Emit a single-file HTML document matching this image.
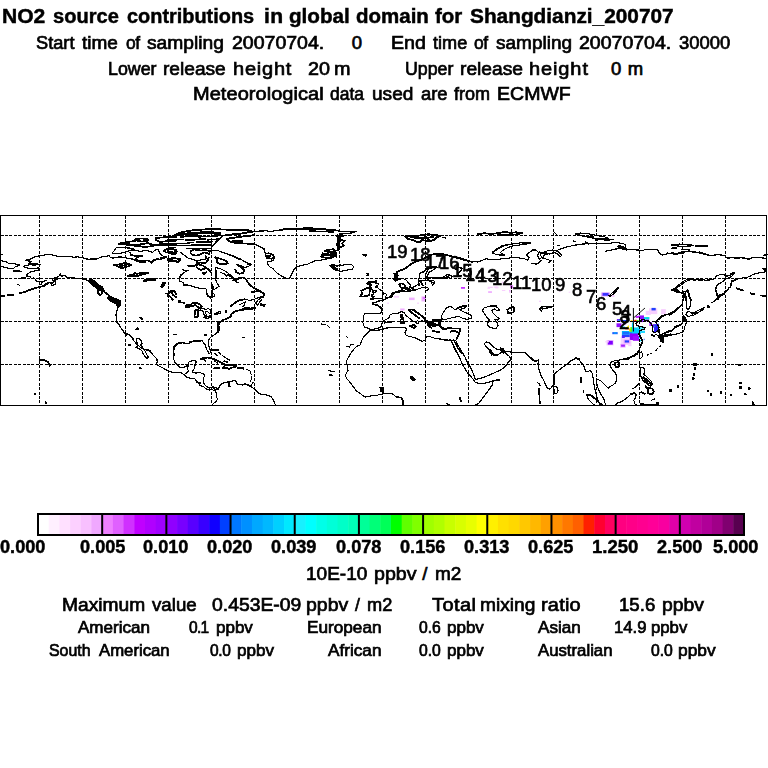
<!DOCTYPE html>
<html><head><meta charset="utf-8"><title>NO2 source contributions</title>
<style>
html,body{margin:0;padding:0;background:#fff;}
body{width:768px;height:768px;position:relative;overflow:hidden;font-family:"Liberation Sans",sans-serif;color:#000;}
.t{position:absolute;white-space:pre;line-height:1;transform-origin:0 0;-webkit-text-stroke:0.7px #000;}
.t.b{-webkit-text-stroke:0.45px #000;}
.t.d{-webkit-text-stroke:0.6px #000;}
svg{position:absolute;left:0;top:0;}
</style></head><body>
<svg width="768" height="768" viewBox="0 0 768 768">
<defs><filter id="bl" x="-5%" y="-5%" width="110%" height="110%"><feGaussianBlur stdDeviation="0.4"/></filter></defs>
<g id="extra" filter="url(#bl)"><rect x="649.0" y="308.3" width="8.3" height="5.8" fill="#f8d0ff"/>
<rect x="645.7" y="310.8" width="5.0" height="4.2" fill="#f8d0ff"/>
<rect x="651.5" y="307.9" width="4.2" height="2.5" fill="#2040ff"/>
<rect x="661.5" y="309.2" width="4.2" height="4.6" fill="#f8d0ff"/>
<rect x="635.7" y="315.8" width="3.3" height="2.1" fill="#c020ff"/>
<rect x="639.0" y="315.4" width="5.0" height="3.8" fill="#9010ff"/>
<rect x="644.0" y="317.1" width="5.4" height="2.5" fill="#00c8ff"/>
<rect x="646.5" y="317.5" width="1.7" height="1.2" fill="#00ff90"/>
<rect x="616.9" y="319.0" width="3.8" height="2.8" fill="#9010ff"/>
<rect x="617.8" y="319.6" width="2.5" height="1.2" fill="#00b0ff"/>
<rect x="621.9" y="320.0" width="6.2" height="1.3" fill="#2040ff"/>
<rect x="630.8" y="320.0" width="1.5" height="1.0" fill="#ffe000"/>
<rect x="634.2" y="319.8" width="2.5" height="1.5" fill="#ff2000"/>
<rect x="636.8" y="320.0" width="1.8" height="1.3" fill="#40ff00"/>
<rect x="639.8" y="319.8" width="3.3" height="2.3" fill="#9010ff"/>
<rect x="643.2" y="320.4" width="2.5" height="1.4" fill="#2040ff"/>
<rect x="645.7" y="319.6" width="3.3" height="1.8" fill="#9010ff"/>
<rect x="616.5" y="323.3" width="5.0" height="3.8" fill="#9010ff"/>
<rect x="622.8" y="321.8" width="3.3" height="2.5" fill="#a020ff"/>
<rect x="620.7" y="336.7" width="10.8" height="8.3" fill="#f6d4ff"/>
<rect x="621.9" y="334.2" width="7.9" height="2.9" fill="#2040ff"/>
<rect x="621.9" y="335.8" width="2.9" height="2.2" fill="#5020ff"/>
<rect x="621.9" y="331.0" width="18.8" height="3.5" fill="#00a8ff"/>
<rect x="622.8" y="332.1" width="6.2" height="1.7" fill="#2060ff"/>
<rect x="629.8" y="333.3" width="8.3" height="6.7" fill="#9000ff"/>
<rect x="632.8" y="335.8" width="6.2" height="5.0" fill="#a010ff"/>
<rect x="631.9" y="327.5" width="8.8" height="5.8" fill="#00d0ff"/>
<rect x="637.3" y="326.5" width="6.7" height="2.3" fill="#40e8ff"/>
<rect x="639.0" y="330.7" width="6.0" height="2.3" fill="#20d8ff"/>
<rect x="621.9" y="326.5" width="2.9" height="2.3" fill="#00c0ff"/>
<rect x="631.9" y="322.5" width="1.2" height="5.8" fill="#00e0ff"/>
<rect x="629.0" y="328.8" width="2.7" height="2.8" fill="#ffe800"/>
<rect x="630.3" y="327.1" width="1.8" height="4.4" fill="#60ff00"/>
<rect x="625.2" y="328.2" width="4.2" height="1.2" fill="#ff2000"/>
<rect x="612.3" y="332.1" width="5.4" height="2.1" fill="#2060ff"/>
<rect x="614.0" y="332.5" width="2.5" height="1.0" fill="#00c0ff"/>
<rect x="649.4" y="322.1" width="2.5" height="3.8" fill="#9010ff"/>
<rect x="652.3" y="324.2" width="1.7" height="3.3" fill="#7010ff"/>
<rect x="654.0" y="324.2" width="4.2" height="7.9" fill="#3020ff"/>
<rect x="654.0" y="325.8" width="1.0" height="1.0" fill="#00ff80"/>
<rect x="652.3" y="327.1" width="1.0" height="0.9" fill="#00d0ff"/>
<rect x="639.0" y="336.7" width="2.1" height="1.7" fill="#00d0ff"/>
<rect x="639.8" y="340.0" width="3.3" height="1.3" fill="#00d8ff"/>
<rect x="643.7" y="338.8" width="1.0" height="1.0" fill="#2040ff"/>
<rect x="606.5" y="340.0" width="7.1" height="5.4" fill="#f4c8ff"/>
<rect x="607.8" y="340.8" width="5.0" height="3.8" fill="#8000ff"/>
<rect x="623.6" y="339.6" width="6.7" height="3.8" fill="#e8a0ff"/>
<rect x="624.8" y="340.4" width="4.2" height="2.1" fill="#2040ff"/>
<rect x="620.2" y="343.8" width="5.4" height="3.8" fill="#f0b0ff"/>
<rect x="621.1" y="344.6" width="3.8" height="2.1" fill="#a020ff"/>
<rect x="628.2" y="345.0" width="3.3" height="1.2" fill="#f8d0ff"/>
<rect x="601.5" y="292.5" width="8.1" height="3.8" fill="#c070ff"/>
<rect x="602.8" y="293.1" width="5.6" height="2.5" fill="#3030ff"/>
<rect x="610.2" y="295.0" width="4.4" height="1.9" fill="#f8d0ff"/>
<rect x="605.2" y="341.2" width="3.8" height="1.2" fill="#f8d0ff"/>
<rect x="394.0" y="295.8" width="5.0" height="1.9" fill="#f8d0ff"/>
<rect x="409.0" y="297.6" width="5.6" height="2.5" fill="#f0b0ff"/>
<rect x="421.5" y="296.4" width="4.4" height="5.0" fill="#f0b0ff"/>
<rect x="422.8" y="297.0" width="2.5" height="1.9" fill="#e070ff"/>
<rect x="387.1" y="302.6" width="1.9" height="1.2" fill="#f8d0ff"/>
<rect x="417.1" y="302.6" width="1.9" height="1.2" fill="#f8d0ff"/>
<rect x="400.2" y="308.5" width="4.4" height="2.0" fill="#f0b0ff"/>
<rect x="488.1" y="291.5" width="3.8" height="1.2" fill="#f0b0ff"/>
<rect x="501.9" y="290.0" width="3.1" height="0.6" fill="#f8d0ff"/>
<rect x="509.0" y="290.0" width="1.6" height="2.5" fill="#f0b0ff"/>
<rect x="463.1" y="302.5" width="2.5" height="1.0" fill="#f8d0ff"/>
<rect x="461.0" y="287.1" width="4.0" height="1.6" fill="#c020ff"/>
<rect x="487.5" y="287.8" width="2.5" height="1.0" fill="#f8d0ff"/>
<rect x="493.8" y="286.5" width="3.8" height="1.2" fill="#f8d0ff"/>
<rect x="488.1" y="291.5" width="3.8" height="1.0" fill="#f0b0ff"/>
<rect x="510.0" y="285.2" width="3.1" height="3.1" fill="#e070ff"/>
<rect x="501.9" y="290.2" width="3.1" height="0.6" fill="#f8d0ff"/>
<rect x="509.4" y="290.9" width="1.2" height="1.2" fill="#f8d0ff"/>
<rect x="501.8" y="281.7" width="1.7" height="1.7" fill="#f8d0ff"/>
<rect x="538.5" y="289.7" width="1.7" height="1.2" fill="#f8d0ff"/>
<rect x="495.2" y="286.7" width="3.3" height="1.7" fill="#f8d0ff"/>
<rect x="487.8" y="286.7" width="5.0" height="1.3" fill="#f8d0ff"/>
<rect x="488.7" y="291.7" width="3.3" height="1.0" fill="#f0b0ff"/>
<rect x="502.0" y="290.0" width="3.3" height="1.0" fill="#f8d0ff"/>
<rect x="538.7" y="289.7" width="2.0" height="1.3" fill="#f0b0ff"/>
<rect x="539.0" y="300.8" width="2.0" height="0.8" fill="#f0b0ff"/>
<rect x="558.7" y="290.8" width="2.5" height="0.8" fill="#f8d0ff"/>
<rect x="568.7" y="291.7" width="1.7" height="1.0" fill="#f8d0ff"/>
<rect x="661.1" y="309.2" width="4.4" height="5.1" fill="#f8d0ff"/>
<rect x="656.0" y="323.8" width="2.9" height="8.0" fill="#2020ff"/>
<polygon fill="#fff000" points="629.0,325.0 629.0,328.8 624.8,328.8"/></g>
<g id="grid" stroke="#000" stroke-width="1" stroke-dasharray="3 1.4" fill="none" shape-rendering="crispEdges">
<line x1="39.50" y1="215.5" x2="39.50" y2="405.5"/>
<line x1="82.50" y1="215.5" x2="82.50" y2="405.5"/>
<line x1="125.50" y1="215.5" x2="125.50" y2="405.5"/>
<line x1="168.50" y1="215.5" x2="168.50" y2="405.5"/>
<line x1="211.50" y1="215.5" x2="211.50" y2="405.5"/>
<line x1="254.50" y1="215.5" x2="254.50" y2="405.5"/>
<line x1="296.50" y1="215.5" x2="296.50" y2="405.5"/>
<line x1="339.50" y1="215.5" x2="339.50" y2="405.5"/>
<line x1="382.50" y1="215.5" x2="382.50" y2="405.5"/>
<line x1="425.50" y1="215.5" x2="425.50" y2="405.5"/>
<line x1="468.50" y1="215.5" x2="468.50" y2="405.5"/>
<line x1="511.50" y1="215.5" x2="511.50" y2="405.5"/>
<line x1="553.50" y1="215.5" x2="553.50" y2="405.5"/>
<line x1="596.50" y1="215.5" x2="596.50" y2="405.5"/>
<line x1="639.50" y1="215.5" x2="639.50" y2="405.5"/>
<line x1="682.50" y1="215.5" x2="682.50" y2="405.5"/>
<line x1="725.50" y1="215.5" x2="725.50" y2="405.5"/>
<line x1="0.5" y1="235.50" x2="766.5" y2="235.50"/>
<line x1="0.5" y1="278.50" x2="766.5" y2="278.50"/>
<line x1="0.5" y1="321.50" x2="766.5" y2="321.50"/>
<line x1="0.5" y1="364.50" x2="766.5" y2="364.50"/>
</g>
<g id="coast" stroke="#000" stroke-width="1.15" fill="none" stroke-linejoin="round" stroke-linecap="square" shape-rendering="crispEdges">
<polyline points="25.6,260.2 28.1,259.4 31.9,258.8 33.8,257.1 37.5,256.2 41.2,255.6 45.6,254.8 51.2,254.8 55.0,255.6 58.8,256.5 65.0,256.6 70.0,256.6 73.1,257.2 77.5,256.9 82.5,257.5 86.2,259.0 91.2,259.4 96.0,258.1"/>
<polyline points="25.6,260.2 28.1,261.0 31.9,261.2 30.6,262.5 28.8,263.5 31.2,263.8 37.5,264.0 40.6,264.4"/>
<polyline points="31.9,263.8 30.0,264.8 26.9,265.2 23.1,266.5 25.0,267.5 28.8,268.2 33.8,268.5 38.8,267.9 39.8,269.4 37.5,270.6 33.8,271.2 30.0,272.2 28.1,273.5 26.5,274.8 28.1,276.0 24.4,277.8 20.6,278.1"/>
<polyline points="31.9,263.8 36.2,264.8 33.8,265.5 31.2,264.8"/>
<polyline points="28.1,276.0 30.6,276.9 31.2,278.5 33.8,277.8 35.6,279.4 36.2,281.0 40.0,281.5 42.5,282.2 43.8,281.2 46.2,280.6"/>
<polyline points="42.5,282.2 40.6,284.4 43.1,285.6 45.6,283.8 48.1,282.5 50.6,283.1 51.9,285.6 55.0,284.4 55.6,281.9 53.1,281.2 52.5,279.0 55.0,277.8 58.1,276.9 60.6,274.0 61.2,276.2 65.0,275.6 67.5,277.8 70.0,277.5 75.0,278.1 82.5,278.5 86.2,279.8 87.5,280.6"/>
<polyline stroke-width="1.8" points="20.0,293.1 25.0,291.9 30.0,289.8 35.0,288.1 40.0,286.9 43.8,286.0 48.1,283.1"/>
<polyline stroke-width="1.8" points="50.6,283.1 53.1,282.5 54.4,280.0 57.5,278.8"/>
<polyline stroke-width="1.8" points="0.0,295.9 4.4,295.9"/>
<polyline stroke-width="1.8" points="8.1,295.2 13.1,294.8"/>
<polyline points="17.2,284.4 19.8,285.2"/>
<polyline points="0.0,260.2 2.5,261.0 6.2,261.9 8.8,263.5 13.8,263.8 17.5,264.4 19.8,265.2 17.5,266.0 15.0,266.9 13.8,268.1 11.2,269.0 8.8,268.5 6.2,267.5 3.1,266.9 0.0,266.5"/>
<polyline stroke-width="1.8" points="14.0,270.9 18.8,271.2 21.5,271.6"/>
<polyline points="0.0,254.4 2.5,254.4"/>
<polyline points="80.0,257.5 83.1,257.8 86.9,259.0 91.9,259.4 95.6,258.8 98.8,258.1 102.5,256.5 106.9,256.5 108.5,255.2 110.6,257.5 113.1,258.1 116.2,257.2 121.2,256.9 125.2,257.5 128.8,258.8 132.5,259.0 135.6,260.0 138.8,261.5 145.0,261.2 148.1,260.6 151.2,263.1 153.1,260.6 156.2,259.0 160.0,260.0 162.5,258.8 166.2,257.5 168.1,258.8 172.5,260.0 176.0,260.6"/>
<polyline stroke-width="1.8" points="91.2,259.0 95.6,259.0"/>
<polyline points="112.2,253.1 114.4,250.6 116.2,247.8 121.2,247.5 125.2,247.8 130.0,248.1 133.8,249.0 130.0,250.6 126.9,251.5 125.2,252.5 121.2,253.1 116.2,253.5 112.2,253.1"/>
<polyline stroke-width="2.8" points="119.0,244.0 125.6,243.5"/>
<polyline stroke-width="1.8" points="126.2,241.9 135.0,241.2"/>
<polyline stroke-width="2.8" points="127.5,244.8 136.2,245.2"/>
<polyline stroke-width="1.8" points="135.6,239.4 140.0,238.5 147.5,238.8 148.1,240.6 142.5,241.5 137.5,241.2 135.6,239.4"/>
<polyline stroke-width="1.8" points="136.9,245.0 142.5,244.0 147.5,243.1 151.9,244.4 155.6,245.2 151.9,246.2 145.0,246.9 138.8,246.2 136.9,245.0"/>
<polyline points="126.2,251.5 130.0,250.6 135.0,250.0 140.0,251.5 145.0,250.6 150.0,251.2 152.5,252.5 155.0,250.0 158.1,249.8 159.4,252.5 161.2,255.0 165.0,256.9 162.5,258.8"/>
<polyline points="130.0,252.5 131.2,255.0 135.0,256.2 141.2,256.0 136.2,258.1 135.6,260.0"/>
<polyline stroke-width="1.8" points="131.2,254.8 135.0,256.0 141.9,256.0"/>
<polyline stroke-width="2.8" points="135.6,260.0 140.0,261.5 145.0,261.2"/>
<polyline stroke-width="1.8" points="148.8,260.6 151.2,262.5 153.8,260.2 158.1,259.0"/>
<polyline stroke-width="1.8" points="156.2,238.1 161.2,237.5 167.5,237.2 176.0,236.9"/>
<polyline stroke-width="1.8" points="156.2,240.0 160.0,241.9 167.5,241.2 176.0,240.6"/>
<polyline stroke-width="2.8" points="157.5,245.0 165.0,244.4 172.5,245.0 176.0,244.5"/>
<polyline stroke-width="1.8" points="163.8,250.6 167.5,248.8 172.5,249.0 176.0,250.0"/>
<polyline points="163.8,250.6 166.2,252.5 171.2,252.5 176.0,252.2"/>
<polyline stroke-width="1.8" points="161.2,258.1 166.2,256.9"/>
<polyline stroke-width="1.8" points="114.4,265.0 118.8,264.4 122.5,263.8 125.2,262.8 128.1,264.0 131.2,264.8 128.8,266.2 125.0,266.9 122.5,268.1 119.4,267.5 117.5,266.0 114.4,265.0"/>
<polyline stroke-width="1.8" points="120.0,266.0 126.2,265.0"/>
<polyline stroke-width="1.8" points="128.1,275.6 132.5,275.0 135.0,273.1 136.9,273.8 140.0,273.1 145.0,272.5 148.5,272.8 145.0,273.8 141.2,274.8 137.5,276.2 132.5,276.2 128.1,275.6"/>
<polyline points="82.4,278.8 85.6,279.8 88.1,280.2"/>
<polyline fill="#000" points="88.1,280.2 92.5,279.8 95.6,281.9 98.8,285.0 102.5,286.9 103.1,289.4 100.6,290.0 97.5,289.0 95.0,286.9 91.9,285.0 89.4,282.5 88.1,280.2"/>
<polyline stroke-width="1.8" points="97.5,290.6 100.0,290.0 102.5,291.0 101.9,293.8 100.0,295.6 98.1,293.1 97.5,290.6"/>
<polyline stroke-width="1.8" points="103.1,289.4 105.0,292.5 106.9,293.8 109.4,295.6 108.1,298.1"/>
<polyline fill="#000" points="108.1,297.5 111.2,296.5 116.2,299.0 120.6,301.0 120.9,305.0 119.0,307.2 117.5,306.0 116.2,304.0 113.8,302.8 110.6,300.9 108.1,298.8"/>
<polyline points="118.1,306.9 116.9,310.6 116.0,315.0 116.2,318.1 116.2,321.2 117.5,323.1 119.4,325.0 120.6,327.5 122.5,330.0 124.4,332.5 126.9,333.8 129.4,335.0 131.9,336.9 133.8,339.0"/>
<polyline stroke-width="1.8" points="124.4,332.8 126.5,335.0"/>
<polyline stroke-width="2.8" points="144.4,281.0 147.5,279.6 154.4,279.4"/>
<polyline stroke-width="1.8" points="161.2,286.5 163.1,283.1 165.6,282.5 164.0,284.8 162.5,286.9"/>
<polyline stroke-width="1.8" points="165.6,293.5 168.8,293.8 171.2,290.6 173.8,290.6 176.0,293.8"/>
<polyline stroke-width="1.8" points="167.5,295.6 170.6,296.9 172.5,299.4"/>
<polyline stroke-width="1.8" points="171.2,291.2 173.1,295.0 176.0,296.9"/>
<polyline fill="#000" points="140.0,317.5 141.9,317.9 142.8,319.5 141.0,319.2 140.0,317.5"/>
<polyline fill="#000" points="136.0,329.5 137.5,328.1 138.8,329.6"/>
<polyline points="173.8,334.4 176.0,334.4"/>
<polyline stroke-width="1.8" points="39.7,359.8 44.2,360.3 47.5,361.5 49.2,364.0 50.0,365.7"/>
<polyline fill="#000" points="34.8,393.8 35.8,393.8 35.8,394.8 34.8,394.8"/>
<polyline fill="#000" points="45.0,402.0 46.7,402.3 46.7,403.3 45.3,403.0"/>
<polyline points="129.4,335.0 130.6,335.6 133.8,340.6 136.9,344.4 140.0,346.9 143.8,349.4 149.4,350.6 153.1,355.0 156.9,358.8 157.2,361.9 156.2,364.4 158.8,366.0 162.5,367.8 166.2,369.8 170.0,371.6 174.4,372.9 178.1,372.5 181.9,373.1 184.4,375.0 186.2,376.9 190.0,378.1 195.0,379.0 196.9,381.9 198.8,383.1 200.0,385.6 203.8,386.9 206.2,388.8 209.4,390.0 211.0,389.4 213.1,390.0 216.0,391.2"/>
<polyline stroke-width="1.8" points="148.1,350.0 150.0,351.2"/>
<polyline stroke-width="1.8" points="197.5,382.2 200.0,382.8"/>
<polyline points="136.2,338.8 138.8,338.5 141.5,341.0 142.2,344.0 140.6,345.0 143.8,348.8 145.6,351.9 146.9,355.0 148.5,357.2 147.2,358.5 145.0,356.2 143.1,354.0 142.2,351.0 138.8,348.5 135.6,347.2 138.1,345.6 136.9,342.5 136.2,338.8"/>
<polyline stroke-width="1.8" points="181.2,342.8 178.1,343.5 175.6,345.2 173.8,347.5 173.5,351.2 173.8,355.0"/>
<polyline points="173.8,355.0 173.8,359.4 175.0,362.5 176.9,364.8 179.4,366.9 181.9,367.8 185.0,366.9 187.5,365.6 188.5,362.5 190.0,361.2 195.0,360.6 196.2,361.9 195.0,365.0 194.8,368.1 193.1,370.0 192.5,372.5 196.2,373.1 200.0,372.5 203.1,373.8 204.8,375.6 203.5,378.1 203.1,381.9 204.4,384.4 206.2,386.2 209.4,388.1 211.2,387.5 213.1,386.9 216.0,387.5"/>
<polyline points="188.5,362.5 188.1,366.2 187.5,369.4 188.8,371.2 186.9,372.5 185.0,374.0"/>
<polyline points="181.2,342.8 185.0,343.1 188.8,343.8 190.6,341.9 195.0,341.2 200.0,341.0 201.9,340.6 203.8,343.1 205.6,345.6 206.2,348.8 208.1,351.9 209.4,353.8 210.6,352.5 210.0,349.4 209.0,346.2 208.5,342.5 209.0,339.4 210.6,337.5 212.5,335.6"/>
<polyline stroke-width="1.8" points="190.0,341.9 195.0,341.2 200.0,341.0"/>
<polyline stroke-width="1.8" points="200.6,359.4 203.1,358.1 207.5,357.5 211.2,358.1 214.4,359.4 216.0,360.6"/>
<polyline points="200.6,359.4 205.0,360.0 205.6,361.5"/>
<polyline points="212.5,404.4 214.4,402.5 216.0,401.9"/>
<polyline fill="#000" points="129.0,344.2 130.0,344.2 130.0,345.5 129.0,345.5"/>
<polyline fill="#000" points="140.0,367.9 141.0,367.9 141.0,368.9 140.0,368.9"/>
<polyline points="213.8,350.0 216.0,350.0"/>
<polyline points="214.4,353.8 216.0,354.4"/>
<polyline stroke-width="1.8" points="175.5,235.0 180.5,232.5 186.8,231.2 195.5,230.0 205.5,229.4 211.8,229.0 220.5,229.4 230.5,229.8 238.0,229.8 246.8,229.8 251.5,231.0 248.0,232.5 241.8,233.5 235.5,233.8 230.5,235.0 223.0,235.6 220.5,238.1 216.8,241.2 214.2,244.4 211.8,246.2"/>
<polyline points="251.5,231.0 255.5,231.9 260.5,230.6 264.0,230.2"/>
<polyline stroke-width="1.8" points="226.8,239.4 230.5,238.1 238.0,237.2 245.5,236.2 254.2,235.2"/>
<polyline stroke-width="1.8" points="226.8,239.4 230.5,241.9 236.1,243.1 241.8,243.1"/>
<polyline points="241.8,243.1 248.0,244.0 254.2,244.4 259.2,246.2 264.0,248.8"/>
<polyline stroke-width="1.8" points="231.8,234.4 238.0,233.8 243.0,233.5"/>
<polyline stroke-width="1.8" points="233.0,240.6 241.8,241.0"/>
<polyline stroke-width="2.8" points="177.4,234.5 193.0,233.5 209.2,232.2 219.9,233.8"/>
<polyline points="168.0,237.5 175.5,236.9"/>
<polyline stroke-width="1.8" points="180.5,236.8 198.0,235.9"/>
<polyline points="200.5,236.8 220.5,235.8"/>
<polyline points="168.0,240.0 183.0,239.5"/>
<polyline stroke-width="1.8" points="185.5,240.2 205.5,239.0"/>
<polyline points="208.0,240.0 218.0,238.8"/>
<polyline points="168.0,243.1 175.5,243.1"/>
<polyline points="178.0,243.5 193.0,242.8"/>
<polyline stroke-width="1.8" points="196.8,242.0 211.8,241.6"/>
<polyline points="168.0,245.9 190.5,245.9"/>
<polyline points="191.8,245.0 210.5,245.0"/>
<polyline points="168.0,248.1 175.5,247.8"/>
<polyline points="186.8,248.8 210.5,248.5"/>
<polyline stroke-width="1.8" points="194.2,233.8 200.5,238.1"/>
<polyline stroke-width="1.8" points="211.8,232.5 218.0,235.0"/>
<polyline stroke-width="1.8" points="190.5,251.2 194.2,249.4 200.5,250.6 205.5,250.0 209.9,251.2 209.2,253.8 204.2,252.5 200.5,254.4 196.8,255.6 192.4,255.0 190.5,253.1 190.5,251.2"/>
<polyline stroke-width="1.8" points="168.0,251.2 173.0,252.5 176.8,251.9 175.5,254.4 171.8,253.8 168.0,252.5"/>
<polyline points="180.5,252.5 184.2,255.0 188.0,258.1 193.0,259.4 196.8,261.2 200.5,260.0 206.8,258.8 209.2,257.5"/>
<polyline stroke-width="1.8" points="168.0,258.8 174.2,258.1 180.5,259.4 178.0,261.9 173.0,261.2 168.0,260.6"/>
<polyline points="211.1,250.0 218.0,250.6 223.0,252.5 228.0,254.4 233.0,255.6 238.0,258.1 241.8,260.0 246.1,262.5 251.5,264.4 248.0,266.5 244.9,267.8 241.8,266.2 237.4,264.8"/>
<polyline stroke-width="1.8" points="228.0,254.4 233.0,255.9 238.0,258.4 241.1,259.4"/>
<polyline stroke-width="1.8" points="215.5,257.5 220.5,258.8 225.5,260.6 227.8,263.1 224.2,264.4 219.2,263.8 216.8,261.9 217.4,259.4 215.5,257.5"/>
<polyline stroke-width="1.8" points="237.4,264.8 241.1,267.5 244.2,270.0 243.0,273.1 239.2,273.8 236.1,271.9 235.5,270.0"/>
<polyline stroke-width="1.8" points="188.0,265.6 193.0,266.2 198.0,264.4 203.0,265.6 205.5,267.5 209.2,270.0 211.1,272.5"/>
<polyline points="182.4,269.8 188.0,270.6 184.2,272.5 181.1,275.0 179.9,278.1"/>
<polyline stroke-width="1.8" points="196.8,267.5 200.5,270.0 204.2,268.8"/>
<polyline fill="#000" points="202.4,273.1 206.8,271.9 204.2,274.4"/>
<polyline points="215.5,267.5 220.5,268.8 224.2,270.6 228.0,273.1 231.8,276.2 234.2,278.1"/>
<polyline stroke-width="1.8" points="215.5,268.8 216.1,273.8 215.5,279.0"/>
<polyline points="220.5,272.5 224.2,273.8 226.8,276.2"/>
<polyline stroke-width="1.8" points="205.5,256.2 208.0,260.0 205.5,263.1 200.5,262.5 196.8,263.1"/>
<polyline points="180.5,275.0 179.2,278.1 179.9,281.2 183.0,282.5 183.6,285.0 188.0,285.0 193.0,286.5 198.6,288.1 203.0,288.5 206.1,289.0 207.0,293.8 208.0,295.6 209.9,297.5 211.1,296.2 211.8,293.8 213.6,293.1 214.9,295.6 213.0,296.9"/>
<polyline stroke-width="1.8" points="207.0,293.8 208.2,296.0 210.2,297.5"/>
<polyline points="213.0,296.9 212.4,290.0 215.5,288.8 219.2,286.2 217.4,283.8 216.1,280.6 215.5,277.5 216.1,275.0"/>
<polyline stroke-width="1.8" points="211.8,285.0 213.6,287.5 212.4,290.0"/>
<polyline fill="#000" points="178.2,300.4 180.8,300.4 180.8,302.1 178.2,302.1"/>
<polyline stroke-width="1.8" points="182.4,302.5 184.2,303.2"/>
<polyline stroke-width="1.8" points="185.5,306.9 186.8,305.0 190.5,304.8 193.0,302.8 196.8,302.8 199.9,304.4 201.8,306.9 199.9,307.8 196.8,306.2 194.9,305.0 192.4,306.2 188.6,306.9 185.5,306.9"/>
<polyline stroke-width="1.8" points="194.9,310.6 196.8,309.4 198.0,310.6 198.0,316.2 196.1,317.5 194.5,316.9 194.9,310.6"/>
<polyline points="199.9,307.8 203.0,308.5 205.5,309.4 208.0,308.8 210.5,309.4 211.1,311.2 209.9,313.8 208.0,311.9 206.1,311.2 205.5,313.1 206.8,315.6 204.9,316.2 203.6,313.8 203.0,311.2 200.8,310.0 199.2,310.6 198.6,308.8"/>
<polyline points="204.2,317.5 206.8,316.9 210.5,315.6 211.8,316.2 209.2,317.8 205.5,318.5 204.2,317.5"/>
<polyline points="214.9,313.5 218.0,312.1 220.5,311.8 220.2,313.1 217.4,314.0 214.9,314.2"/>
<polyline stroke-width="1.8" points="230.5,306.2 233.0,304.4 236.1,301.9 239.9,300.0 244.2,299.4"/>
<polyline points="244.2,299.4 248.0,300.0 249.9,300.6 255.5,298.8 260.5,296.9 264.0,295.6"/>
<polyline points="239.9,304.4 243.0,303.1 245.5,301.9 244.2,305.0 243.0,306.2"/>
<polyline points="264.0,296.9 260.5,298.1 258.0,300.0 255.5,303.1 257.4,305.0 259.9,301.9 261.8,299.4"/>
<polyline stroke-width="2.8" points="254.2,307.8 250.5,309.0 245.5,308.1 243.0,309.4"/>
<polyline stroke-width="1.8" points="243.0,309.4 238.0,310.6 234.2,311.9 231.1,314.4 230.5,316.9 226.8,318.8 223.0,320.0 220.5,321.9 218.6,323.1"/>
<polyline stroke-width="2.8" points="218.6,323.1 218.0,325.6 218.6,328.8 218.0,331.9"/>
<polyline points="218.0,331.9 215.5,333.8 213.0,335.6 210.5,337.5 209.2,339.0"/>
<polyline fill="#000" points="225.2,310.5 226.5,310.5 226.5,312.5 225.2,312.5"/>
<polyline stroke-width="1.8" points="228.0,275.0 231.8,276.9 234.2,278.8 233.0,280.6 236.1,280.0 239.2,278.1 243.0,277.5 246.1,279.4 248.0,282.5 250.5,285.6 254.2,288.1 258.0,290.0 261.1,291.9 264.0,293.8"/>
<polyline stroke-width="1.8" points="251.8,291.9 258.0,291.2"/>
<polyline points="234.2,278.8 236.1,281.9 238.0,282.5"/>
<polyline stroke-width="2.8" points="261.1,304.8 264.0,305.2"/>
<polyline points="174.0,334.4 175.8,334.4"/>
<polyline fill="#000" points="204.8,334.2 206.0,334.2 206.0,335.5 204.8,335.5"/>
<polyline points="243.0,337.1 244.9,337.1"/>
<polyline stroke-width="1.8" points="213.1,349.8 218.1,350.2"/>
<polyline points="215.0,353.8 216.9,355.6"/>
<polyline points="218.8,352.5 220.6,354.0"/>
<polyline points="221.9,355.0 225.0,357.5"/>
<polyline points="226.2,358.5 229.4,360.0"/>
<polyline stroke-width="1.8" points="224.4,361.2 226.9,361.9"/>
<polyline stroke-width="1.8" points="212.5,358.5 215.6,359.8 218.8,361.2 221.9,362.8 225.0,364.4 226.9,365.0"/>
<polyline points="215.0,361.2 217.5,363.1"/>
<polyline stroke-width="1.8" points="223.1,367.8 225.0,365.6 228.8,365.0 233.1,365.0 236.2,366.2 234.4,367.2 231.2,367.8 229.4,369.0 226.9,368.1 223.1,367.8"/>
<polyline stroke-width="1.8" points="214.4,367.9 219.4,368.2"/>
<polyline stroke-width="1.8" points="238.1,367.8 241.9,368.1"/>
<polyline points="243.1,367.5 243.8,369.4"/>
<polyline points="246.9,369.4 249.4,370.6"/>
<polyline points="250.2,371.9 251.2,374.4"/>
<polyline points="251.6,376.2 251.2,379.4"/>
<polyline points="250.6,380.6 250.0,381.9"/>
<polyline points="242.9,337.2 244.8,337.2"/>
<polyline stroke-width="1.8" points="213.8,388.5 215.6,389.8 218.1,388.8"/>
<polyline points="218.1,388.8 220.0,385.6 221.9,383.8 224.4,382.5 228.1,381.9 229.0,386.2 230.0,386.9 229.8,381.9 231.9,381.2 233.8,380.6 236.2,381.2 236.9,383.8 240.0,384.8 243.1,385.0 245.0,383.8 248.1,385.0 250.6,386.2 252.5,383.1 253.8,382.5"/>
<polyline stroke-width="1.8" points="248.1,385.0 251.2,386.2"/>
<polyline points="250.6,386.2 253.8,388.8 256.2,390.6 258.8,393.1 261.2,394.4 265.0,394.8 268.1,395.2 271.2,396.9 273.1,399.4 274.4,402.5 275.6,405.0"/>
<polyline points="215.6,390.0 216.2,393.8 216.9,397.5 217.5,399.4 215.6,401.9 213.1,403.8 211.9,405.0"/>
<polyline points="248.0,231.7 253.0,231.3 258.0,231.7 264.7,230.8 271.3,231.3 278.0,230.3 284.7,228.7 291.3,228.3 298.0,228.3 304.7,228.0 309.7,227.5 314.7,228.3 323.0,228.7 331.3,229.7 336.3,230.8 341.3,231.3 349.7,231.3 356.3,231.7 351.3,233.0 344.7,233.3 339.7,233.7"/>
<polyline stroke-width="1.8" points="248.0,231.7 252.2,231.7"/>
<polyline stroke-width="1.8" points="279.7,229.7 298.0,229.2"/>
<polyline stroke-width="1.8" points="309.7,231.3 333.0,231.7"/>
<polyline stroke-width="1.8" points="339.7,233.7 343.0,235.8 338.8,237.5 341.3,240.0 344.7,240.8 342.2,243.3 343.8,245.8 339.7,247.5 338.8,250.0 335.5,250.8 333.0,249.2 328.0,250.0 324.7,250.8 329.7,252.5 334.7,253.3 336.3,255.8 331.3,257.5 326.3,258.0 321.3,256.7 322.2,255.0 326.3,254.7"/>
<polyline stroke-width="1.8" points="338.0,238.3 339.3,248.3"/>
<polyline stroke-width="2.8" points="337.5,235.7 340.0,240.7 337.5,244.5 338.7,248.8"/>
<polyline stroke-width="2.8" points="323.0,254.0 335.5,256.0"/>
<polyline stroke-width="1.8" points="326.3,251.0 336.3,252.7"/>
<polyline stroke-width="2.8" points="331.7,266.3 336.3,269.3"/>
<polyline stroke-width="1.8" points="300.0,229.0 318.0,229.0 334.7,230.3"/>
<polyline points="331.3,258.0 326.3,259.2 319.7,260.3 314.7,260.8 311.3,262.5 306.3,264.7 301.3,265.3 297.2,267.0 294.7,268.3 293.0,271.7 291.7,274.2 290.5,277.0 288.0,278.7 285.5,278.0"/>
<polyline points="285.5,278.0 281.3,275.8 277.2,273.3 274.7,270.8 273.0,268.7 269.7,266.7 267.7,264.2 268.0,261.7 273.0,260.8 274.3,257.5 273.0,254.7 268.8,253.3 265.5,253.7 264.7,251.7 263.8,249.2 260.5,246.7 256.3,244.7 252.2,243.7 248.0,243.3"/>
<polyline stroke-width="1.8" points="265.5,253.7 268.8,253.3 273.0,254.7 274.3,257.5 271.3,258.7 267.2,258.0 265.5,255.8 269.7,255.8"/>
<polyline stroke-width="1.8" points="330.5,265.8 333.0,264.5 336.3,265.8 340.5,265.3"/>
<polyline points="340.5,265.3 346.3,264.7 351.3,264.5 353.8,266.7 352.2,269.2 346.3,270.3 341.3,271.3 336.3,270.3 333.0,269.2 330.5,265.8"/>
<polyline fill="#000" points="363.0,254.3 366.0,254.7 366.0,256.0 363.3,255.7"/>
<polyline fill="#000" points="366.7,273.5 368.3,273.5 368.3,275.2 366.7,275.2"/>
<polyline points="248.0,264.2 251.0,264.7"/>
<polyline stroke-width="1.8" points="396.6,272.2 401.0,270.1 404.8,268.9 407.2,267.0 409.8,265.1 412.2,263.2 414.8,262.0 418.5,260.8 422.2,259.5 426.0,257.6 429.8,255.1 434.8,253.9 439.8,253.9 444.8,254.5 449.8,255.8 454.8,257.0 459.8,258.2 464.8,259.8 468.5,261.0 472.0,261.8"/>
<polyline fill="#000" points="393.5,273.9 397.2,273.5 398.1,275.8 396.9,278.2 395.6,281.0 393.5,279.8"/>
<polyline points="395.4,280.8 399.1,279.2 402.9,278.5 405.4,279.5 407.2,281.4 408.8,283.2 410.4,285.1 409.8,287.6 407.9,288.9 406.0,288.0"/>
<polyline stroke-width="1.8" points="399.1,284.5 401.6,283.5 404.1,284.5 405.4,287.0 402.9,288.2 400.4,287.0 399.1,284.5"/>
<polyline stroke-width="2.8" points="406.0,288.2 410.4,290.5"/>
<polyline stroke-width="1.8" points="412.2,288.5 414.8,290.1"/>
<polyline points="410.4,287.6 413.5,287.0 416.0,285.8 417.9,284.5 419.1,282.0 418.5,279.5 419.8,277.6 419.1,275.1 421.0,272.6 424.1,271.8 425.4,269.5 427.2,268.2 429.8,267.2"/>
<polyline points="429.8,267.2 433.5,266.8 437.2,267.2 434.8,268.9 431.6,270.8 429.1,272.2 427.9,274.5 427.2,277.0 429.8,277.6 434.8,278.0 439.8,277.6 443.5,277.0 446.0,275.1 449.1,274.5 452.2,276.4 451.0,278.2 447.9,277.6"/>
<polyline stroke-width="1.8" points="436.0,278.5 444.1,278.0"/>
<polyline points="426.6,278.5 428.5,280.1 431.0,280.8 433.5,280.1 434.5,282.0 433.8,284.5 431.6,283.9 431.0,282.0"/>
<polyline stroke-width="1.8" points="418.5,282.6 419.1,285.1"/>
<polyline stroke-width="1.8" points="421.2,282.0 422.5,285.1"/>
<polyline points="414.8,290.1 418.5,288.9 422.2,287.6 426.0,287.0 428.5,288.2 427.9,290.1 426.0,290.8"/>
<polyline points="456.0,269.5 458.5,267.6 462.2,268.2 461.0,270.8 457.9,273.9 459.1,275.8 461.0,275.1"/>
<polyline stroke-width="1.8" points="405.4,237.0 409.8,235.5 417.2,235.8 423.5,234.8 428.5,234.2 434.8,235.1 441.0,235.8 437.2,237.0 434.8,239.5 431.0,240.8 426.0,241.0 422.2,239.8 419.1,242.6 416.0,241.4 412.2,239.8 407.9,238.9 405.4,237.0"/>
<polyline stroke-width="1.8" points="411.0,237.2 418.5,238.2 426.0,237.6 433.5,237.2"/>
<polyline stroke-width="1.8" points="424.8,235.8 428.5,239.5"/>
<polyline points="442.9,237.6 445.4,238.0"/>
<polyline fill="#000" points="366.5,273.2 368.4,273.2 368.4,275.2 366.5,275.2"/>
<polyline stroke-width="1.8" points="402.8,290.8 399.6,290.8 396.5,292.0 394.0,292.6 392.1,294.5 390.2,296.4"/>
<polyline points="390.2,296.4 387.8,297.6 385.2,298.9 382.8,300.1 380.2,301.0 377.8,301.4 375.9,302.0 373.4,302.6 372.5,303.9 375.2,304.8 378.4,305.8 380.2,307.6 381.5,309.5 381.5,312.0 380.2,313.9 376.5,313.9 372.1,313.5 367.8,313.2 364.6,313.9 363.4,315.8 363.8,319.5 362.8,322.0 363.4,324.5 364.6,327.0 368.4,328.2 370.2,329.8 369.0,332.0 367.1,333.9 364.6,336.0"/>
<polyline stroke-width="1.8" points="391.5,294.2 394.0,292.6"/>
<polyline points="370.2,329.8 374.0,329.2 377.8,328.2 380.9,327.0 381.5,324.5 383.0,322.0 384.6,320.1 387.1,318.9 389.0,317.6 389.6,315.1 392.1,313.9 395.2,313.5 399.0,313.0 401.5,311.4 404.0,312.6 405.9,315.1 407.8,317.0 410.2,318.9 412.8,320.8 415.9,322.6 417.8,323.9 419.0,322.0 417.1,320.1"/>
<polyline stroke-width="1.8" points="385.2,322.6 390.9,321.8"/>
<polyline points="408.4,309.5 411.5,309.2 414.0,310.8 417.1,313.2 420.2,315.1 422.8,317.0 424.6,319.5 424.0,321.4 421.5,320.8"/>
<polyline stroke-width="1.8" points="409.0,310.1 414.0,314.5 419.0,318.2"/>
<polyline points="411.5,309.2 414.0,309.5 417.8,312.6 420.9,315.1 424.0,317.6 425.9,320.1 427.8,322.6 429.6,324.5"/>
<polyline stroke-width="1.8" points="400.9,315.1 402.1,314.5 402.8,317.6 401.5,318.2 400.9,315.1"/>
<polyline stroke-width="1.8" points="400.5,319.5 403.4,319.2 403.8,323.2 400.9,323.5 400.5,319.5"/>
<polyline stroke-width="1.8" points="410.2,325.8 414.0,325.1 415.9,326.4 414.0,328.2 411.5,327.0 410.2,325.8"/>
<polyline points="370.9,330.8 376.5,330.2 381.5,329.8 385.2,328.2 394.0,327.2 400.2,327.2 405.2,327.6 406.5,329.5 405.0,332.0 405.2,334.5 407.1,336.0"/>
<polyline points="402.8,290.8 406.5,291.4 410.2,290.8 414.8,290.1"/>
<polyline points="441.2,316.9 442.5,313.8 444.4,311.2 446.2,308.1 450.0,306.2 452.5,307.5 454.4,309.4 456.9,308.8 460.0,306.9 463.8,305.6 466.2,305.6 465.6,307.5 462.5,308.8 459.4,309.4 461.2,310.6 465.0,312.5 468.8,313.8 471.2,315.6 471.2,318.1 468.1,319.4 463.8,318.8 460.0,316.9 456.2,316.9 451.9,317.8 448.1,318.8 445.0,319.4 442.5,319.4 441.2,316.9"/>
<polyline stroke-width="1.8" points="456.9,308.8 460.0,307.1 463.8,305.9 466.0,305.9"/>
<polyline points="482.5,310.6 483.8,308.1 487.5,306.9 491.2,305.6 495.0,305.6 498.1,308.1 499.4,310.0 496.9,310.6 494.4,308.8 491.9,310.6 493.1,313.1 495.0,315.0 496.9,316.9 499.4,318.8 497.5,320.0 495.0,319.4 496.9,322.5 498.1,325.6 496.2,328.1 492.5,328.1 489.4,326.9 487.5,325.0 488.1,321.9 489.4,320.0 487.5,318.1 485.6,315.6 484.0,313.1 482.5,310.6"/>
<polyline stroke-width="1.8" points="491.2,305.9 495.6,305.9"/>
<polyline stroke-width="1.8" points="507.5,310.0 509.4,308.1 513.1,306.9 514.4,308.8 513.8,311.9 511.2,313.1 508.1,313.1 507.5,310.0"/>
<polyline points="420.0,314.4 422.5,316.2 425.0,318.8 425.6,320.6 427.5,323.8 429.4,326.2 431.2,328.1 432.5,326.2 435.0,326.9 436.9,325.0 438.8,325.6 440.0,323.1 438.8,320.6 441.2,320.0 445.0,319.4"/>
<polyline stroke-width="2.8" points="427.5,321.9 432.5,322.5"/>
<polyline stroke-width="2.8" points="433.8,320.6 440.0,320.0"/>
<polyline stroke-width="2.8" points="431.2,324.4 436.2,325.0"/>
<polyline stroke-width="2.8" points="439.0,321.2 440.0,325.6"/>
<polyline stroke-width="1.8" points="428.1,325.6 431.2,327.5"/>
<polyline points="441.2,326.2 444.4,328.8 446.9,328.1 450.0,327.5 453.8,328.8 457.5,328.1 460.6,328.1 460.0,331.9 458.8,335.0 457.5,338.1 456.2,340.0 453.8,340.6 450.0,340.0 446.2,340.6 442.5,339.4 438.8,338.8 434.4,338.1 430.6,336.9 427.5,336.2 425.6,337.5 425.0,340.0 422.5,341.2 420.0,340.6"/>
<polyline points="440.0,325.6 441.9,327.5 443.1,329.4"/>
<polyline points="453.8,340.0 455.6,343.8 457.5,347.5 460.0,351.2 461.9,354.0"/>
<polyline points="451.2,340.6 452.8,344.4 454.4,348.1 456.2,351.9 457.5,354.0"/>
<polyline stroke-width="1.8" points="451.2,331.5 455.6,330.8"/>
<polyline stroke-width="1.8" points="433.1,331.2 438.8,331.9"/>
<polyline points="484.4,343.8 486.2,341.9 488.8,342.5 491.2,345.0 493.8,347.5 497.5,349.4 501.2,350.0 503.1,348.8 505.0,351.2 510.0,351.9 516.0,352.5"/>
<polyline points="484.4,343.8 485.6,346.2 488.1,348.8 490.0,351.2 491.9,354.0"/>
<polyline stroke-width="2.8" points="490.2,350.6 492.2,354.0"/>
<polyline stroke-width="2.8" points="500.6,349.4 503.5,351.9"/>
<polyline points="370.0,330.3 367.5,332.8 365.0,335.3 362.5,338.7 361.3,342.0 360.0,345.0 356.7,346.2 354.2,348.7 351.7,352.0 349.7,355.3 347.5,358.7 346.3,362.0 347.5,366.2 348.0,370.3 346.7,372.8 345.3,375.3 346.7,378.7 349.2,381.2 351.7,384.5 354.2,387.8 355.8,390.3 359.2,392.8 362.5,395.3 365.0,397.0 368.3,396.7 372.5,395.3 376.7,395.3 380.0,394.5 384.2,393.7 387.5,393.3 391.7,393.3 394.2,395.3 395.8,397.0 399.2,397.0 401.7,398.3 403.0,400.3 403.0,405.3"/>
<polyline fill="#000" points="379.7,387.5 383.7,387.8 383.7,392.0 380.8,391.7"/>
<polyline stroke-width="1.8" points="401.3,397.8 403.0,401.2 403.0,405.3"/>
<polyline stroke-width="1.8" points="410.8,376.7 413.3,377.8 415.0,379.5 412.5,380.0 411.3,378.3"/>
<polyline points="346.3,346.5 349.2,347.0"/>
<polyline points="350.8,345.0 353.3,344.5"/>
<polyline points="346.3,336.7 347.5,337.3"/>
<polyline points="321.7,324.0 325.0,324.5"/>
<polyline points="327.5,325.7 329.2,327.0"/>
<polyline points="328.3,370.7 334.2,371.7"/>
<polyline stroke-width="1.8" points="330.0,375.2 332.5,375.5"/>
<polyline points="406.7,335.7 410.8,336.7 415.0,337.8 420.0,340.3"/>
<polyline points="447.0,403.7 448.0,405.3"/>
<polyline points="451.7,341.2 453.3,345.3 455.8,350.3 458.3,355.3 460.8,360.3 462.5,364.5 465.0,368.7 467.5,372.8 470.8,376.2 473.3,379.5 475.0,382.0 479.2,383.7 484.2,383.3 489.2,382.0 492.5,381.2 492.0,385.3 489.2,389.5 486.7,392.8 484.2,396.2 481.7,399.5 479.2,402.8 475.8,405.0"/>
<polyline points="455.8,340.3 457.5,344.5 460.0,348.7 462.5,352.8 465.0,357.0 466.7,361.2 469.2,365.3 471.7,369.5 473.3,373.7 474.7,377.8 475.8,379.5 480.8,378.3 486.7,376.2 491.7,374.0 496.7,371.7 500.8,370.0 504.2,367.3 506.7,364.5 509.2,361.2 511.3,359.0 509.2,356.2 506.7,354.5 504.2,352.0 502.5,349.5 500.8,352.8 497.5,355.0 493.3,355.3 490.8,352.8"/>
<polyline stroke-width="1.8" points="490.0,352.0 493.3,355.0 497.5,354.7"/>
<polyline stroke-width="1.8" points="500.8,350.3 504.2,351.7"/>
<polyline points="516.0,352.5 520.0,352.3 525.0,352.3 527.5,355.3 530.0,357.8 532.5,359.5 535.0,361.2 538.3,360.7 538.0,364.5 538.7,368.7 540.0,372.8 541.7,377.0 544.2,381.2 545.8,385.3 547.5,388.7 550.0,389.0 551.7,387.0 553.3,385.3 554.2,380.3 554.2,374.5 556.7,372.0 560.8,368.7 565.0,365.7 568.0,363.7"/>
<polyline stroke-width="1.8" points="530.8,357.8 533.3,360.0"/>
<polyline stroke-width="1.8" points="535.8,360.7 538.3,360.3"/>
<polyline stroke-width="1.8" points="554.2,375.3 554.2,384.5"/>
<polyline points="553.8,386.2 556.7,387.0 558.0,390.3 556.7,393.7 554.2,393.7 553.8,386.2"/>
<polyline stroke-width="1.8" points="493.3,380.7 499.2,380.0"/>
<polyline stroke-width="1.8" points="539.2,388.7 539.3,392.0"/>
<polyline stroke-width="1.8" points="539.3,393.3 539.5,397.0"/>
<polyline stroke-width="1.8" points="539.5,398.0 539.7,402.8"/>
<polyline points="537.5,382.3 538.3,383.3"/>
<polyline points="539.3,384.0 540.0,385.3"/>
<polyline points="440.0,327.0 443.3,329.5 448.3,328.7 453.3,328.7 460.0,328.3 459.2,332.0 457.5,336.2 455.8,340.3"/>
<polyline stroke-width="1.8" points="451.7,331.3 456.7,331.7"/>
<polyline points="440.0,339.5 446.7,339.5 451.7,341.2"/>
<polyline stroke-width="1.8" points="459.7,397.8 460.8,401.2"/>
<polyline points="447.5,403.7 449.2,404.5"/>
<polyline stroke-width="1.8" points="477.7,234.2 484.3,233.3 491.0,233.8 497.7,233.3 504.3,232.0 511.0,232.8 516.0,232.3 522.7,233.0 517.7,234.2 511.0,235.0 504.3,234.7 497.7,235.0"/>
<polyline stroke-width="1.8" points="492.7,252.5 496.8,249.2 501.8,246.3 507.7,244.7"/>
<polyline points="507.7,244.7 514.3,243.7 522.7,242.5 530.2,242.5 526.0,244.2 519.3,245.0 513.5,245.8 507.7,247.5 503.5,250.0 500.2,252.5 504.3,255.0 499.3,255.0 495.2,254.2 492.7,252.5"/>
<polyline stroke-width="1.8" points="522.7,242.8 530.2,242.8"/>
<polyline points="456.0,258.0 461.0,259.2 466.0,260.8 472.7,261.3 477.7,262.0 481.0,260.8 486.0,258.7 490.2,259.7 496.0,259.7 502.7,258.7 509.3,258.0 513.5,257.5 519.3,258.0 524.3,258.7 527.7,260.0 529.3,257.5 526.8,255.0 529.3,252.5 532.7,250.0 536.0,250.0 538.5,252.5 537.7,255.8 539.3,259.2 541.8,257.5 540.2,254.2 542.7,252.5 547.7,250.8 552.7,250.0 556.0,250.8 559.3,252.5 561.8,255.0 560.2,256.7 557.7,254.2 554.3,252.5 549.3,253.7 544.3,255.0 542.7,258.3 546.8,259.2 551.0,260.8 549.3,262.5"/>
<polyline stroke-width="1.8" points="540.2,252.5 549.3,253.7"/>
<polyline points="531.8,263.3 536.0,264.2 538.5,263.3 541.0,260.8"/>
<polyline points="556.0,250.8 562.7,248.3 567.7,246.7 574.3,245.3 579.3,244.7 584.0,244.2"/>
<polyline points="554.3,232.5 556.8,234.7"/>
<polyline points="557.7,245.2 559.3,245.5"/>
<polyline points="573.5,241.0 575.2,241.3"/>
<polyline points="576.0,233.7 580.2,233.0 584.0,233.3"/>
<polyline stroke-width="1.8" points="578.5,235.3 584.0,235.8"/>
<polyline points="576.0,234.2 581.0,233.3 587.7,233.7 592.7,234.7 597.7,235.8 602.7,236.3 606.8,237.5 609.3,240.0 604.3,240.0 599.3,239.2 596.0,240.8 595.2,238.3 589.3,237.5 584.3,236.3 579.3,235.3 576.0,234.2"/>
<polyline stroke-width="1.8" points="584.3,236.5 592.7,236.8"/>
<polyline stroke-width="1.8" points="597.7,238.5 607.7,239.3"/>
<polyline points="610.2,239.7 613.5,239.7"/>
<polyline points="576.0,245.0 581.0,244.2 586.0,243.3 592.7,243.7 597.7,243.3 604.3,243.7 609.3,243.3 614.3,242.5 619.3,243.0 623.5,243.7 626.0,245.0 625.2,248.3 621.0,247.5 616.0,249.2 610.2,250.3 605.2,251.3"/>
<polyline stroke-width="2.8" points="619.0,246.3 625.7,248.8"/>
<polyline stroke-width="1.8" points="586.0,242.5 588.5,243.7"/>
<polyline points="611.0,250.0 617.7,248.3 624.3,249.2 631.0,249.7 637.7,250.0 642.7,250.3 647.7,249.2 652.7,249.7 657.7,250.0 659.3,253.3 661.8,255.0 665.2,254.7 667.7,253.0 672.7,253.7 677.7,253.3 682.7,252.5 687.7,251.3 692.7,252.0 699.3,253.0 704.0,253.7"/>
<polyline stroke-width="1.8" points="674.3,253.7 682.7,253.0"/>
<polyline points="672.7,245.0 677.7,244.2 686.0,244.7 692.7,245.3 686.0,246.3 679.3,246.3 672.7,245.0"/>
<polyline points="682.7,249.3 689.3,249.8"/>
<polyline points="696.0,246.0 704.0,246.5"/>
<polyline points="672.7,248.0 676.0,248.0"/>
<polyline points="609.0,295.7 611.8,293.3 615.2,290.3 617.3,287.5 618.2,288.3 616.3,291.3 613.3,294.2 610.3,296.3 609.0,295.7"/>
<polyline stroke-width="1.8" points="615.7,289.7 617.7,287.7"/>
<polyline points="672.0,245.0 675.8,244.4 679.5,244.0 684.5,244.8 689.5,244.8 693.2,245.2 689.5,246.2 684.5,246.9 679.5,246.2 675.8,245.6"/>
<polyline stroke-width="1.8" points="695.8,245.8 707.0,246.2"/>
<polyline points="682.0,249.5 689.5,250.0"/>
<polyline points="672.0,248.5 674.5,248.5"/>
<polyline stroke-width="1.8" points="672.0,253.1 675.8,253.8 679.5,253.5 682.6,251.9"/>
<polyline points="682.6,251.9 687.0,251.2 692.0,251.5 697.0,252.2 702.0,252.8 705.8,254.0 708.2,255.2 713.2,255.2 717.0,254.8 722.0,255.0 725.1,256.0 727.0,258.1 732.0,257.8 737.0,258.1 742.0,257.8 745.1,258.8 748.2,258.5 753.2,257.8 759.5,257.8 764.5,258.1 766.5,258.1"/>
<polyline stroke-width="1.8" points="700.1,252.5 708.2,255.1"/>
<polyline stroke-width="1.8" points="743.2,258.2 748.9,258.8"/>
<polyline stroke-width="1.8" points="764.5,254.9 766.5,255.2"/>
<polyline points="762.6,268.8 765.1,268.5 766.5,270.0"/>
<polyline stroke-width="1.8" points="763.9,269.4 766.0,270.6"/>
<polyline points="672.0,290.0 675.8,287.5 679.5,284.4 682.6,281.9 685.8,280.0 690.8,279.0 695.1,279.8 700.1,279.4 706.4,280.2 710.8,279.8 714.5,278.8 716.4,276.2 720.1,274.4 724.5,274.4 727.0,276.2 730.8,275.0 734.5,272.8 732.0,276.2 729.5,277.5 726.4,278.8"/>
<polyline stroke-width="1.8" points="690.8,279.2 695.1,280.0"/>
<polyline stroke-width="1.8" points="698.9,279.6 702.0,279.6"/>
<polyline stroke-width="1.8" points="706.4,280.5 709.5,280.2"/>
<polyline stroke-width="1.8" points="724.5,274.8 727.0,276.5"/>
<polyline stroke-width="1.8" points="730.8,273.8 734.5,272.8"/>
<polyline points="726.4,278.8 722.0,281.9 718.2,284.4 716.0,287.5 715.8,291.2 716.8,295.0 717.6,298.1 718.9,300.0"/>
<polyline points="715.1,300.0 718.9,297.5 723.2,293.8 725.5,291.2 727.6,290.0 728.9,287.5 730.8,286.9 730.1,284.4 732.0,283.1 731.4,281.2 733.9,280.0 735.8,280.0 738.2,278.8 742.0,278.1 747.0,277.5 750.1,276.2 753.2,274.4 758.2,273.1 762.0,272.5 765.1,271.9 766.5,271.2"/>
<polyline stroke-width="1.8" points="672.0,290.0 677.0,290.6"/>
<polyline stroke-width="1.8" points="675.8,289.8 678.2,290.6 677.6,291.9 675.1,291.2"/>
<polyline points="682.0,290.0 683.2,293.1 684.5,296.2 685.8,300.0"/>
<polyline stroke-width="1.8" points="687.6,290.0 688.9,295.0 690.8,300.0"/>
<polyline stroke-width="1.8" points="682.6,291.2 684.5,295.0"/>
<polyline points="737.0,288.1 742.6,290.6"/>
<polyline stroke-width="1.8" points="751.4,293.5 753.9,294.0"/>
<polyline points="761.4,295.6 763.2,296.2"/>
<polyline points="764.5,296.2 766.5,296.2"/>
<polyline points="649.0,321.2 646.5,320.6 643.4,319.8 640.2,320.2 637.8,321.9 635.9,323.1 636.5,325.0 639.0,326.2 642.1,326.9 645.2,327.5 644.0,329.4 641.5,330.0 639.6,331.2 639.0,333.8 640.2,336.2 641.5,338.8 642.8,341.2 642.1,343.8 640.9,346.2 639.6,348.8 639.0,351.9 637.1,354.4 634.0,356.2 630.9,357.5 627.1,358.8 624.0,359.4"/>
<polyline stroke-width="1.8" points="639.0,333.8 640.5,336.9 641.8,340.0"/>
<polyline stroke-width="1.8" points="624.0,359.2 627.8,358.8"/>
<polyline points="649.0,321.2 650.9,323.1 652.1,325.6 652.8,328.8 652.1,331.2 654.0,332.5 656.5,331.9 658.4,330.0 659.0,327.5 657.8,325.0 656.5,323.1 655.2,321.9 659.0,319.4 661.5,316.9 665.2,315.0 669.0,313.8 672.8,311.9 676.5,309.0 680.0,306.2"/>
<polyline stroke-width="1.8" points="658.8,330.2 659.8,335.0 661.5,339.8 663.0,342.2"/>
<polyline points="659.0,338.1 657.8,335.6 655.9,334.4"/>
<polyline stroke-width="1.8" points="652.1,335.0 654.0,335.8"/>
<polyline points="639.6,352.5 641.5,351.9 642.8,354.4 641.8,357.5 640.2,358.8 639.2,355.6 639.6,352.5"/>
<polyline points="647.8,355.0 648.8,354.6"/>
<polyline points="651.1,353.5 651.9,353.1"/>
<polyline points="655.8,350.8 656.5,350.1"/>
<polyline points="659.0,347.0 660.5,345.4"/>
<polyline points="656.0,321.6 658.9,318.6 661.8,315.7 666.2,314.7 669.9,315.0 673.5,312.8 677.1,309.9 680.1,307.0 682.3,304.1 683.0,300.4 683.7,296.8 683.0,293.9 679.3,291.7 675.7,290.9 672.8,289.9 676.4,288.0 680.1,285.8 683.7,282.9 687.4,280.7 689.5,280.0"/>
<polyline stroke-width="1.8" points="672.8,289.9 675.7,291.1 679.3,292.0"/>
<polyline stroke-width="1.8" points="685.2,291.7 687.4,290.9 688.8,293.9 689.8,297.5"/>
<polyline points="689.8,297.5 691.0,301.9 690.3,305.5 689.3,308.4 687.4,309.9 686.6,306.3 686.9,301.9 686.3,297.5 685.2,294.6 685.2,291.7"/>
<polyline points="687.4,311.4 690.3,312.1 693.2,313.3 695.4,311.8 698.3,310.3 701.2,309.2 704.1,307.7 702.7,309.9 699.8,311.4 696.8,313.3 694.2,315.0 691.0,315.7 688.1,316.5 685.9,315.0 687.4,311.4"/>
<polyline stroke-width="1.8" points="692.5,313.8 695.7,312.4"/>
<polyline points="684.4,316.5 685.9,319.4 686.6,322.3 685.2,325.2 684.4,328.9 683.7,331.0 681.5,332.5 677.9,333.7 674.2,334.7 670.6,335.1 666.9,336.1 663.3,336.1 661.8,334.7 664.8,332.5 668.4,331.0 672.0,330.3 675.0,328.1 677.9,326.4 680.8,324.5 683.0,321.6 683.0,318.6 684.4,316.5"/>
<polyline stroke-width="1.8" points="683.4,316.5 685.2,321.6"/>
<polyline stroke-width="1.8" points="675.0,327.0 680.8,324.6"/>
<polyline stroke-width="1.8" points="664.8,332.8 672.0,330.6"/>
<polyline stroke-width="1.8" points="663.3,336.0 670.6,335.3"/>
<polyline stroke-width="1.8" points="658.9,336.1 661.8,335.4 663.3,338.3 662.6,342.0 661.1,341.3 660.1,338.3 658.9,336.1"/>
<polyline stroke-width="1.8" points="664.8,334.8 669.9,334.4"/>
<polyline points="656.6,349.4 657.8,348.3"/>
<polyline points="659.2,346.8 660.4,345.9"/>
<polyline fill="#000" points="707.3,306.0 709.1,306.0 709.1,307.1 707.3,307.1"/>
<polyline points="712.1,302.6 717.3,299.0 720.9,296.0 724.5,293.9"/>
<polyline points="724.5,280.7 720.2,282.9 716.5,285.8 715.5,289.5 717.0,293.1 718.0,296.8 720.2,294.6 724.5,293.1 727.5,290.2 729.6,287.3 731.8,285.1 731.1,282.2 734.8,280.7"/>
<polyline stroke-width="1.8" points="736.9,288.5 742.8,290.5"/>
<polyline stroke-width="1.8" points="750.8,293.4 753.7,294.3"/>
<polyline stroke-width="1.8" points="761.0,295.5 764.6,296.0"/>
<polyline fill="#000" points="711.7,353.8 712.9,353.8 712.9,355.0 711.7,355.0"/>
<polyline points="420.0,273.4 423.1,271.5 426.9,269.6 430.6,268.4 434.4,267.1 436.9,266.5"/>
<polyline points="427.5,270.9 425.6,274.0 426.2,277.1 430.0,278.0 433.8,277.8 438.8,278.4 443.8,277.8 447.5,276.8 449.4,275.2"/>
<polyline points="420.0,280.2 423.8,280.9 427.5,280.2 431.2,281.5 433.8,283.4 432.5,285.2"/>
<polyline stroke-width="1.8" points="539.5,309.2 542.0,307.3"/>
<polyline points="542.0,307.0 546.2,306.7 552.0,306.3 551.7,307.5 547.0,308.0 542.8,308.7 541.2,311.3 539.5,309.2"/>
<polyline points="568.0,363.7 570.5,360.7 573.8,359.5 576.3,357.8 578.8,359.0 580.5,362.0 583.0,364.5 584.7,367.8 585.5,371.2 588.0,372.0 589.7,370.3 591.7,372.0 592.7,375.3 593.3,379.5 593.8,383.7 594.7,387.8 595.5,392.0 596.7,396.2 597.7,399.5 598.8,402.8 600.5,405.0"/>
<polyline stroke-width="1.8" points="575.5,358.2 578.8,359.0"/>
<polyline points="605.5,404.5 604.7,402.0 603.8,398.7 602.2,396.2 600.5,393.7 598.8,390.3 597.7,387.0 596.7,382.8 596.3,378.7 598.0,379.5 601.3,381.2 603.8,383.7 606.3,386.2 608.3,388.3 610.5,386.2 613.0,385.0 615.5,382.8 616.7,379.5 616.3,375.3 614.7,372.0 612.2,369.5 610.5,367.0 609.7,364.5 611.3,362.0 614.7,360.7 619.7,360.0 624.0,359.0 629.7,357.3 633.8,355.3 637.2,352.8 639.3,349.5 640.5,346.2 641.3,342.8"/>
<polyline stroke-width="1.8" points="615.5,362.8 618.0,362.0 619.7,364.0 618.8,367.0 616.3,367.3 615.2,365.0 615.5,362.8"/>
<polyline points="640.5,367.8 643.8,367.3 644.7,371.2 643.8,374.5 646.3,376.2 648.8,378.7 651.3,381.2 652.2,384.5 650.5,386.2 648.0,384.5 645.5,382.8 643.0,380.3 641.3,377.0 640.0,373.7 640.5,367.8"/>
<polyline stroke-width="1.8" points="643.3,377.3 646.7,379.5 649.3,382.0 651.0,385.0"/>
<polyline stroke-width="1.8" points="644.7,380.3 648.0,384.0"/>
<polyline stroke-width="1.8" points="648.0,387.8 652.2,388.7 653.8,392.0 651.3,394.5 648.0,393.3 648.0,387.8"/>
<polyline stroke-width="1.8" points="641.3,392.3 644.7,393.7"/>
<polyline stroke-width="1.8" points="645.5,386.2 647.7,388.7"/>
<polyline points="633.0,388.7 636.3,386.2 639.3,383.3"/>
<polyline points="615.5,404.5 618.0,402.8 621.3,401.7 624.7,399.5 628.0,397.0 631.3,394.0 633.8,392.8 636.3,394.5 635.5,397.8 633.8,400.3 634.7,403.7 636.3,405.0"/>
<polyline stroke-width="1.8" points="631.3,394.0 634.3,393.2"/>
<polyline stroke-width="1.8" points="586.7,395.3 590.5,395.0 593.0,397.0 595.5,399.0 598.0,401.7 600.5,403.7 602.2,405.0"/>
<polyline points="586.7,395.3 588.0,398.7 590.5,401.7 593.0,404.0 594.7,405.0"/>
<polyline stroke-width="1.8" points="581.0,377.8 581.3,382.0"/>
<polyline points="583.3,391.2 583.8,392.0"/>
<polyline fill="#000" points="669.8,390.0 671.3,390.0 671.3,391.5 669.8,391.5"/>
<polyline fill="#000" points="656.3,402.7 658.8,402.7 658.8,405.0 656.3,405.0"/>
<polyline stroke-width="1.8" points="641.3,404.3 654.7,404.8"/>
<polyline points="651.3,400.3 654.7,399.0"/>
<polyline points="366.6,283.4 368.5,281.8 370.4,282.1 372.2,281.5 374.8,281.2 376.3,280.6 376.6,281.8 374.8,282.8 376.6,283.4 378.5,283.7 378.2,284.9 376.6,285.6 375.4,286.8 377.2,287.4 378.8,288.7 380.4,289.9 381.9,290.9 383.2,292.1 384.1,293.1 386.0,294.0 386.6,295.2 385.4,296.5 386.0,297.8 385.4,299.0 383.8,299.6 381.9,299.0 381.0,298.1 377.9,298.1 375.4,298.1 374.1,299.0 371.0,299.3 370.1,299.3 371.6,298.4 373.8,297.4 374.1,296.5 371.3,296.2 371.6,294.9 373.5,294.6 373.2,292.8 372.6,291.5 374.1,290.6 376.0,290.2 376.0,292.1 374.1,292.4"/>
<polyline points="366.6,283.4 368.2,284.3 369.4,285.6 370.1,287.1 369.4,288.4 370.4,289.3 371.9,289.0 372.6,290.2 372.6,291.5"/>
<polyline stroke-width="1.8" points="368.2,282.8 370.4,285.9 371.0,289.0"/>
<polyline stroke-width="1.8" points="369.1,282.8 371.0,285.2"/>
<polyline stroke-width="1.8" points="371.6,282.1 376.0,281.4"/>
<polyline stroke-width="1.8" points="375.7,286.8 377.6,287.4"/>
<polyline stroke-width="1.8" points="382.6,291.8 383.2,294.6"/>
<polyline points="371.6,296.0 374.8,296.2"/>
<polyline stroke-width="1.8" points="360.4,296.2 360.4,295.2 361.9,294.0 361.6,291.5 361.3,290.6 363.5,289.9 365.4,288.7 367.6,288.1 369.4,288.7 370.1,290.2 369.4,292.1 369.4,294.6 368.2,295.6 365.4,295.6 365.4,296.2 362.9,296.5 360.4,296.2"/>
<polyline points="383.5,300.2 385.4,299.6 386.6,298.1"/>
<polyline points="372.9,303.1 374.1,302.4 376.6,302.1 378.5,300.9 380.1,300.6 381.9,300.9 382.2,299.0"/>
<polyline stroke-width="1.8" points="372.9,303.1 372.9,304.3 375.4,304.6 377.6,305.2 379.1,306.5 380.7,307.4 381.6,309.0 382.2,310.0"/>
<polyline stroke-width="1.8" points="378.5,300.9 380.4,300.6"/>
<polyline stroke-width="1.8" points="386.0,297.8 389.1,297.4 391.0,296.8 392.6,295.2 393.5,293.1 396.0,292.4 399.1,292.1 401.0,291.2 401.9,289.6"/>
<polyline fill="#000" points="693.9,364.0 696.4,364.0 696.4,365.0 693.9,365.0"/>
<polyline fill="#000" points="694.1,368.0 695.9,368.0 695.9,369.0 694.1,369.0"/>
<polyline fill="#000" points="693.8,374.0 694.8,374.0 694.8,375.0 693.8,375.0"/>
<polyline fill="#000" points="692.2,378.0 694.0,378.0 694.0,379.0 692.2,379.0"/>
<polyline fill="#000" points="677.8,386.0 678.8,386.0 678.8,387.0 677.8,387.0"/>
<polyline fill="#000" points="707.8,390.9 708.8,390.9 708.8,391.9 707.8,391.9"/>
<polyline fill="#000" points="710.9,394.0 711.9,394.0 711.9,395.8 710.9,395.8"/>
<polyline fill="#000" points="720.9,392.0 721.9,392.0 721.9,393.0 720.9,393.0"/>
<polyline fill="#000" points="730.9,394.9 731.9,394.9 731.9,395.9 730.9,395.9"/>
<polyline fill="#000" points="738.9,364.8 740.1,364.8 740.1,365.8 738.9,365.8"/>
<polyline fill="#000" points="739.5,382.2 741.0,382.2 741.0,383.5 739.5,383.5"/>
<polyline fill="#000" points="739.5,387.0 741.8,387.0 741.8,388.2 739.5,388.2"/>
<polyline fill="#000" points="748.2,388.0 750.0,388.0 750.0,389.0 748.2,389.0"/>
<polyline fill="#000" points="745.0,393.8 746.0,393.8 746.0,394.8 745.0,394.8"/>
<polyline fill="#000" points="752.1,402.0 753.2,402.0 754.0,404.5 752.1,404.5"/>
</g>
<rect x="0.5" y="215.5" width="766.0" height="190.0" fill="none" stroke="#000" stroke-width="1" shape-rendering="crispEdges"/>
<g id="daylabels" font-family="Liberation Sans, sans-serif" font-size="18.5" fill="#000" stroke="#000" stroke-width="0.45">
<line x1="633.4" y1="308" x2="633.4" y2="331.5" stroke="#000" stroke-width="1"/>
<line x1="633.4" y1="318" x2="645" y2="308" stroke="#000" stroke-width="0.9"/>
</g>
<g id="cb">
<rect x="38.00" y="514.0" width="11.20" height="21.0" fill="#ffffff"/>
<rect x="48.70" y="514.0" width="11.20" height="21.0" fill="#fff0ff"/>
<rect x="59.39" y="514.0" width="11.20" height="21.0" fill="#ffe0ff"/>
<rect x="70.09" y="514.0" width="11.20" height="21.0" fill="#fcd0ff"/>
<rect x="80.79" y="514.0" width="11.20" height="21.0" fill="#f8c0ff"/>
<rect x="91.48" y="514.0" width="11.20" height="21.0" fill="#f0a8ff"/>
<rect x="102.18" y="514.0" width="11.20" height="21.0" fill="#ee80ff"/>
<rect x="112.88" y="514.0" width="11.20" height="21.0" fill="#e060ff"/>
<rect x="123.58" y="514.0" width="11.20" height="21.0" fill="#d030ff"/>
<rect x="134.27" y="514.0" width="11.20" height="21.0" fill="#c000ff"/>
<rect x="144.97" y="514.0" width="11.20" height="21.0" fill="#b000ff"/>
<rect x="155.67" y="514.0" width="11.20" height="21.0" fill="#a000ff"/>
<rect x="166.36" y="514.0" width="11.20" height="21.0" fill="#9000ff"/>
<rect x="177.06" y="514.0" width="11.20" height="21.0" fill="#7800ff"/>
<rect x="187.76" y="514.0" width="11.20" height="21.0" fill="#5800ff"/>
<rect x="198.45" y="514.0" width="11.20" height="21.0" fill="#3800ff"/>
<rect x="209.15" y="514.0" width="11.20" height="21.0" fill="#1000ff"/>
<rect x="219.85" y="514.0" width="11.20" height="21.0" fill="#0040ff"/>
<rect x="230.55" y="514.0" width="11.20" height="21.0" fill="#0078ff"/>
<rect x="241.24" y="514.0" width="11.20" height="21.0" fill="#0090ff"/>
<rect x="251.94" y="514.0" width="11.20" height="21.0" fill="#00a8ff"/>
<rect x="262.64" y="514.0" width="11.20" height="21.0" fill="#00b8ff"/>
<rect x="273.33" y="514.0" width="11.20" height="21.0" fill="#00d0ff"/>
<rect x="284.03" y="514.0" width="11.20" height="21.0" fill="#00e8ff"/>
<rect x="294.73" y="514.0" width="11.20" height="21.0" fill="#18f0ff"/>
<rect x="305.42" y="514.0" width="11.20" height="21.0" fill="#00ffff"/>
<rect x="316.12" y="514.0" width="11.20" height="21.0" fill="#00ffe8"/>
<rect x="326.82" y="514.0" width="11.20" height="21.0" fill="#00ffd8"/>
<rect x="337.52" y="514.0" width="11.20" height="21.0" fill="#00ffc8"/>
<rect x="348.21" y="514.0" width="11.20" height="21.0" fill="#00ffb8"/>
<rect x="358.91" y="514.0" width="11.20" height="21.0" fill="#00ff98"/>
<rect x="369.61" y="514.0" width="11.20" height="21.0" fill="#00ff78"/>
<rect x="380.30" y="514.0" width="11.20" height="21.0" fill="#00ff58"/>
<rect x="391.00" y="514.0" width="11.20" height="21.0" fill="#00ff00"/>
<rect x="401.70" y="514.0" width="11.20" height="21.0" fill="#60ff00"/>
<rect x="412.39" y="514.0" width="11.20" height="21.0" fill="#80ff00"/>
<rect x="423.09" y="514.0" width="11.20" height="21.0" fill="#a0ff00"/>
<rect x="433.79" y="514.0" width="11.20" height="21.0" fill="#b0ff00"/>
<rect x="444.48" y="514.0" width="11.20" height="21.0" fill="#c8ff00"/>
<rect x="455.18" y="514.0" width="11.20" height="21.0" fill="#d8ff00"/>
<rect x="465.88" y="514.0" width="11.20" height="21.0" fill="#e8ff00"/>
<rect x="476.58" y="514.0" width="11.20" height="21.0" fill="#ffff00"/>
<rect x="487.27" y="514.0" width="11.20" height="21.0" fill="#fff000"/>
<rect x="497.97" y="514.0" width="11.20" height="21.0" fill="#ffe000"/>
<rect x="508.67" y="514.0" width="11.20" height="21.0" fill="#ffd800"/>
<rect x="519.36" y="514.0" width="11.20" height="21.0" fill="#ffc800"/>
<rect x="530.06" y="514.0" width="11.20" height="21.0" fill="#ffb800"/>
<rect x="540.76" y="514.0" width="11.20" height="21.0" fill="#ffa000"/>
<rect x="551.45" y="514.0" width="11.20" height="21.0" fill="#ff9000"/>
<rect x="562.15" y="514.0" width="11.20" height="21.0" fill="#ff7800"/>
<rect x="572.85" y="514.0" width="11.20" height="21.0" fill="#ff6000"/>
<rect x="583.55" y="514.0" width="11.20" height="21.0" fill="#ff2000"/>
<rect x="594.24" y="514.0" width="11.20" height="21.0" fill="#ff0030"/>
<rect x="604.94" y="514.0" width="11.20" height="21.0" fill="#ff0060"/>
<rect x="615.64" y="514.0" width="11.20" height="21.0" fill="#ff0080"/>
<rect x="626.33" y="514.0" width="11.20" height="21.0" fill="#ff0088"/>
<rect x="637.03" y="514.0" width="11.20" height="21.0" fill="#ff0090"/>
<rect x="647.73" y="514.0" width="11.20" height="21.0" fill="#ff0098"/>
<rect x="658.42" y="514.0" width="11.20" height="21.0" fill="#f800a0"/>
<rect x="669.12" y="514.0" width="11.20" height="21.0" fill="#e000a8"/>
<rect x="679.82" y="514.0" width="11.20" height="21.0" fill="#d000b0"/>
<rect x="690.52" y="514.0" width="11.20" height="21.0" fill="#c000a0"/>
<rect x="701.21" y="514.0" width="11.20" height="21.0" fill="#b00098"/>
<rect x="711.91" y="514.0" width="11.20" height="21.0" fill="#a00088"/>
<rect x="722.61" y="514.0" width="11.20" height="21.0" fill="#800070"/>
<rect x="733.30" y="514.0" width="11.20" height="21.0" fill="#580050"/>
<line x1="102.18" y1="514.0" x2="102.18" y2="535.0" stroke="#000" stroke-width="2"/>
<line x1="166.36" y1="514.0" x2="166.36" y2="535.0" stroke="#000" stroke-width="2"/>
<line x1="230.55" y1="514.0" x2="230.55" y2="535.0" stroke="#000" stroke-width="2"/>
<line x1="294.73" y1="514.0" x2="294.73" y2="535.0" stroke="#000" stroke-width="2"/>
<line x1="358.91" y1="514.0" x2="358.91" y2="535.0" stroke="#000" stroke-width="2"/>
<line x1="423.09" y1="514.0" x2="423.09" y2="535.0" stroke="#000" stroke-width="2"/>
<line x1="487.27" y1="514.0" x2="487.27" y2="535.0" stroke="#000" stroke-width="2"/>
<line x1="551.45" y1="514.0" x2="551.45" y2="535.0" stroke="#000" stroke-width="2"/>
<line x1="615.64" y1="514.0" x2="615.64" y2="535.0" stroke="#000" stroke-width="2"/>
<line x1="679.82" y1="514.0" x2="679.82" y2="535.0" stroke="#000" stroke-width="2"/>
<rect x="38.0" y="514.0" width="706.0" height="21.0" fill="none" stroke="#000" stroke-width="2"/>
</g>
</svg>
<span class="t b" style="left:2.22px;top:6.79px;transform:scaleX(1.0800);letter-spacing:0.005px;font-size:19.5px;font-weight:bold;">NO2</span>
<span class="t b" style="left:53.30px;top:6.79px;transform:scaleX(1.0296);font-size:19.5px;font-weight:bold;">source</span>
<span class="t b" style="left:126.70px;top:6.79px;transform:scaleX(1.0206);font-size:19.5px;font-weight:bold;">contributions</span>
<span class="t b" style="left:264.22px;top:6.79px;transform:scaleX(1.0800);letter-spacing:0.416px;font-size:19.5px;font-weight:bold;">in</span>
<span class="t b" style="left:288.80px;top:6.79px;transform:scaleX(1.0597);font-size:19.5px;font-weight:bold;">global</span>
<span class="t b" style="left:356.40px;top:6.79px;transform:scaleX(1.0508);font-size:19.5px;font-weight:bold;">domain</span>
<span class="t b" style="left:435.00px;top:6.79px;transform:scaleX(1.0490);font-size:19.5px;font-weight:bold;">for</span>
<span class="t b" style="left:470.00px;top:6.79px;transform:scaleX(1.0674);font-size:19.5px;font-weight:bold;">Shangdianzi_200707</span>
<span class="t" style="left:36.00px;top:34.24px;transform:scaleX(0.9838);font-size:18.5px;">Start</span>
<span class="t" style="left:81.70px;top:34.24px;transform:scaleX(1.0271);font-size:18.5px;">time</span>
<span class="t" style="left:125.70px;top:34.24px;transform:scaleX(0.9400);letter-spacing:-0.331px;font-size:18.5px;">of</span>
<span class="t" style="left:147.30px;top:34.24px;transform:scaleX(1.0400);font-size:18.5px;">sampling</span>
<span class="t" style="left:231.70px;top:34.24px;transform:scaleX(1.0543);font-size:18.5px;">20070704.</span>
<span class="t" style="left:351.70px;top:34.24px;transform:scaleX(1.0000);font-size:18.5px;">0</span>
<span class="t" style="left:390.64px;top:34.24px;transform:scaleX(1.0623);font-size:18.5px;">End</span>
<span class="t" style="left:432.70px;top:34.24px;transform:scaleX(0.9809);font-size:18.5px;">time</span>
<span class="t" style="left:474.30px;top:34.24px;transform:scaleX(0.9400);letter-spacing:-0.331px;font-size:18.5px;">of</span>
<span class="t" style="left:496.00px;top:34.24px;transform:scaleX(1.0265);font-size:18.5px;">sampling</span>
<span class="t" style="left:579.00px;top:34.24px;transform:scaleX(1.0543);font-size:18.5px;">20070704.</span>
<span class="t" style="left:679.00px;top:34.24px;transform:scaleX(0.9970);font-size:18.5px;">30000</span>
<span class="t" style="left:108.34px;top:60.24px;transform:scaleX(0.9629);font-size:18.5px;">Lower</span>
<span class="t" style="left:163.27px;top:60.24px;transform:scaleX(1.0339);font-size:18.5px;">release</span>
<span class="t" style="left:232.52px;top:60.24px;transform:scaleX(1.0800);letter-spacing:0.721px;font-size:18.5px;">height</span>
<span class="t" style="left:307.50px;top:60.24px;transform:scaleX(1.0696);font-size:18.5px;">20</span>
<span class="t" style="left:333.93px;top:60.24px;transform:scaleX(1.0714);font-size:18.5px;">m</span>
<span class="t" style="left:405.04px;top:60.24px;transform:scaleX(0.9609);font-size:18.5px;">Upper</span>
<span class="t" style="left:459.96px;top:60.24px;transform:scaleX(1.0389);font-size:18.5px;">release</span>
<span class="t" style="left:528.92px;top:60.24px;transform:scaleX(1.0800);letter-spacing:0.832px;font-size:18.5px;">height</span>
<span class="t" style="left:611.00px;top:60.24px;transform:scaleX(1.0000);font-size:18.5px;">0</span>
<span class="t" style="left:627.70px;top:60.24px;transform:scaleX(1.0000);font-size:18.5px;">m</span>
<span class="t" style="left:193.22px;top:85.14px;transform:scaleX(1.0800);letter-spacing:0.053px;font-size:18.5px;">Meteorological</span>
<span class="t" style="left:330.30px;top:85.14px;transform:scaleX(0.9451);font-size:18.5px;">data</span>
<span class="t" style="left:372.27px;top:85.14px;transform:scaleX(1.0302);font-size:18.5px;">used</span>
<span class="t" style="left:421.00px;top:85.14px;transform:scaleX(0.9943);font-size:18.5px;">are</span>
<span class="t" style="left:454.30px;top:85.14px;transform:scaleX(0.9757);font-size:18.5px;">from</span>
<span class="t" style="left:497.24px;top:85.14px;transform:scaleX(1.0558);font-size:18.5px;">ECMWF</span>
<span class="t" style="left:306.27px;top:564.84px;transform:scaleX(1.0280);font-size:18.5px;">10E-10</span>
<span class="t" style="left:373.94px;top:564.84px;transform:scaleX(1.0610);font-size:18.5px;">ppbv</span>
<span class="t" style="left:422.30px;top:564.84px;transform:scaleX(1.0000);font-size:18.5px;">/</span>
<span class="t" style="left:434.68px;top:564.84px;transform:scaleX(1.0241);font-size:18.5px;">m2</span>
<span class="t" style="left:62.26px;top:595.54px;transform:scaleX(1.0373);font-size:18.5px;">Maximum</span>
<span class="t" style="left:152.30px;top:595.54px;transform:scaleX(1.0105);font-size:18.5px;">value</span>
<span class="t" style="left:211.70px;top:595.54px;transform:scaleX(1.0460);font-size:18.5px;">0.453E-09</span>
<span class="t" style="left:306.25px;top:595.54px;transform:scaleX(1.0535);font-size:18.5px;">ppbv</span>
<span class="t" style="left:355.00px;top:595.54px;transform:scaleX(0.9500);font-size:18.5px;">/</span>
<span class="t" style="left:366.72px;top:595.54px;transform:scaleX(0.9832);font-size:18.5px;">m2</span>
<span class="t" style="left:432.20px;top:595.54px;transform:scaleX(1.0800);letter-spacing:0.416px;font-size:18.5px;">Total</span>
<span class="t" style="left:480.26px;top:595.54px;transform:scaleX(1.0351);font-size:18.5px;">mixing</span>
<span class="t" style="left:540.92px;top:595.54px;transform:scaleX(1.0800);letter-spacing:0.191px;font-size:18.5px;">ratio</span>
<span class="t" style="left:619.29px;top:595.54px;transform:scaleX(1.0081);font-size:18.5px;">15.6</span>
<span class="t" style="left:661.95px;top:595.54px;transform:scaleX(1.0460);font-size:18.5px;">ppbv</span>
<span class="t" style="left:78.20px;top:619.23px;transform:scaleX(1.0329);font-size:16.5px;">American</span>
<span class="t" style="left:189.00px;top:619.23px;transform:scaleX(0.9400);letter-spacing:-0.742px;font-size:16.5px;">0.1</span>
<span class="t" style="left:215.67px;top:619.23px;transform:scaleX(1.0301);font-size:16.5px;">ppbv</span>
<span class="t" style="left:306.66px;top:619.23px;transform:scaleX(1.0415);font-size:16.5px;">European</span>
<span class="t" style="left:419.30px;top:619.23px;transform:scaleX(0.9534);font-size:16.5px;">0.6</span>
<span class="t" style="left:446.67px;top:619.23px;transform:scaleX(1.0301);font-size:16.5px;">ppbv</span>
<span class="t" style="left:537.70px;top:619.23px;transform:scaleX(1.0366);font-size:16.5px;">Asian</span>
<span class="t" style="left:613.69px;top:619.23px;transform:scaleX(1.0117);font-size:16.5px;">14.9</span>
<span class="t" style="left:650.99px;top:619.23px;transform:scaleX(1.0132);font-size:16.5px;">ppbv</span>
<span class="t" style="left:49.30px;top:641.83px;transform:scaleX(0.9641);font-size:16.5px;">South</span>
<span class="t" style="left:99.00px;top:641.83px;transform:scaleX(1.0142);font-size:16.5px;">American</span>
<span class="t" style="left:210.00px;top:641.83px;transform:scaleX(0.9400);letter-spacing:-0.370px;font-size:16.5px;">0.0</span>
<span class="t" style="left:237.27px;top:641.83px;transform:scaleX(1.0329);font-size:16.5px;">ppbv</span>
<span class="t" style="left:327.70px;top:641.83px;transform:scaleX(1.0415);font-size:16.5px;">African</span>
<span class="t" style="left:419.30px;top:641.83px;transform:scaleX(0.9534);font-size:16.5px;">0.0</span>
<span class="t" style="left:446.67px;top:641.83px;transform:scaleX(1.0301);font-size:16.5px;">ppbv</span>
<span class="t" style="left:537.70px;top:641.83px;transform:scaleX(1.0151);font-size:16.5px;">Australian</span>
<span class="t" style="left:651.30px;top:641.83px;transform:scaleX(0.9534);font-size:16.5px;">0.0</span>
<span class="t" style="left:677.65px;top:641.83px;transform:scaleX(1.0498);font-size:16.5px;">ppbv</span>
<span class="t b" style="left:-0.20px;top:538.06px;transform:scaleX(1.0081);font-size:18px;font-weight:bold;">0.000</span>
<span class="t b" style="left:79.80px;top:538.06px;transform:scaleX(1.0081);font-size:18px;font-weight:bold;">0.005</span>
<span class="t b" style="left:143.30px;top:538.06px;transform:scaleX(1.0081);font-size:18px;font-weight:bold;">0.010</span>
<span class="t b" style="left:207.30px;top:538.06px;transform:scaleX(1.0081);font-size:18px;font-weight:bold;">0.020</span>
<span class="t b" style="left:271.30px;top:538.06px;transform:scaleX(1.0081);font-size:18px;font-weight:bold;">0.039</span>
<span class="t b" style="left:335.80px;top:538.06px;transform:scaleX(1.0081);font-size:18px;font-weight:bold;">0.078</span>
<span class="t b" style="left:400.30px;top:538.06px;transform:scaleX(1.0081);font-size:18px;font-weight:bold;">0.156</span>
<span class="t b" style="left:464.30px;top:538.06px;transform:scaleX(1.0081);font-size:18px;font-weight:bold;">0.313</span>
<span class="t b" style="left:528.30px;top:538.06px;transform:scaleX(1.0081);font-size:18px;font-weight:bold;">0.625</span>
<span class="t b" style="left:591.77px;top:538.06px;transform:scaleX(1.0310);font-size:18px;font-weight:bold;">1.250</span>
<span class="t b" style="left:656.80px;top:538.06px;transform:scaleX(1.0081);font-size:18px;font-weight:bold;">2.500</span>
<span class="t b" style="left:713.30px;top:538.06px;transform:scaleX(1.0081);font-size:18px;font-weight:bold;">5.000</span>
<span class="t d" style="left:386.5px;top:243.24px;font-size:18.5px;transform:scaleX(1.0001);">19</span>
<span class="t d" style="left:410.2px;top:245.84px;font-size:18.5px;transform:scaleX(1.0001);">18</span>
<span class="t d" style="left:425.4px;top:253.34px;font-size:18.5px;transform:scaleX(1.0001);">17</span>
<span class="t d" style="left:438.7px;top:253.94px;font-size:18.5px;transform:scaleX(1.0001);">16</span>
<span class="t d" style="left:451.8px;top:261.84px;font-size:18.5px;transform:scaleX(1.0001);">15</span>
<span class="t d" style="left:464.6px;top:265.84px;font-size:18.5px;transform:scaleX(1.0001);">14</span>
<span class="t d" style="left:477.4px;top:267.14px;font-size:18.5px;transform:scaleX(1.0001);">13</span>
<span class="t d" style="left:492.0px;top:269.64px;font-size:18.5px;transform:scaleX(1.0001);">12</span>
<span class="t d" style="left:511.5px;top:273.54px;font-size:18.5px;transform:scaleX(1.0001);">11</span>
<span class="t d" style="left:530.5px;top:276.04px;font-size:18.5px;transform:scaleX(1.0001);">10</span>
<span class="t d" style="left:554.6px;top:276.04px;font-size:18.5px;transform:scaleX(1.0001);">9</span>
<span class="t d" style="left:572.0px;top:281.04px;font-size:18.5px;transform:scaleX(1.0001);">8</span>
<span class="t d" style="left:585.5px;top:287.84px;font-size:18.5px;transform:scaleX(1.0001);">7</span>
<span class="t d" style="left:596.3px;top:294.94px;font-size:18.5px;transform:scaleX(1.0001);">6</span>
<span class="t d" style="left:612.0px;top:299.94px;font-size:18.5px;transform:scaleX(1.0001);">5</span>
<span class="t d" style="left:621.2px;top:303.14px;font-size:18.5px;transform:scaleX(1.0001);">4</span>
<span class="t d" style="left:620.0px;top:308.14px;font-size:18.5px;transform:scaleX(1.0001);">3</span>
<span class="t d" style="left:618.7px;top:313.64px;font-size:18.5px;transform:scaleX(1.0001);">2</span>
</body></html>
